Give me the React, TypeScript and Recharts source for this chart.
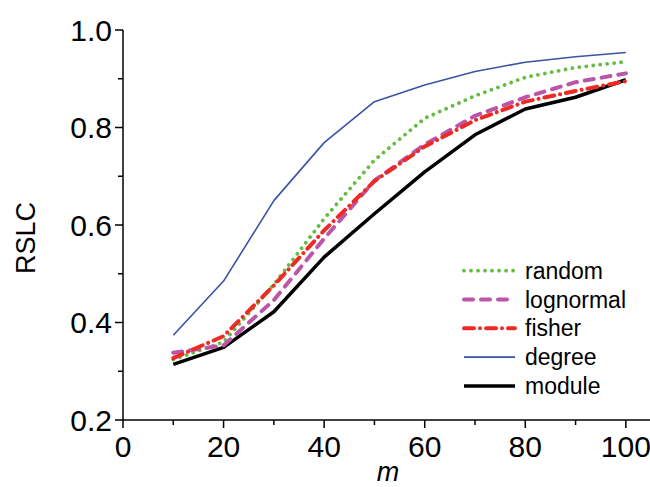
import React from "react";
import { LineChart, Line, XAxis, YAxis } from "recharts";

const mValues = [10, 20, 30, 40, 50, 60, 70, 80, 90, 100];
const randomValues = [0.324, 0.36, 0.478, 0.613, 0.733, 0.819, 0.865, 0.903, 0.923, 0.935];
const lognormalValues = [0.338, 0.353, 0.446, 0.572, 0.691, 0.765, 0.824, 0.862, 0.893, 0.911];
const fisherValues = [0.327, 0.372, 0.476, 0.589, 0.69, 0.761, 0.815, 0.853, 0.875, 0.895];
const degreeValues = [0.374, 0.485, 0.65, 0.769, 0.853, 0.887, 0.915, 0.934, 0.945, 0.954];
const moduleValues = [0.314, 0.349, 0.422, 0.534, 0.623, 0.709, 0.785, 0.838, 0.862, 0.898];

const xTicks = [0, 10, 20, 30, 40, 50, 60, 70, 80, 90, 100];
const yTicks = [0.2, 0.3, 0.4, 0.5, 0.6, 0.7, 0.8, 0.9, 1.0];

const data = mValues.map((m, i) => ({
  m,
  random: randomValues[i],
  lognormal: lognormalValues[i],
  fisher: fisherValues[i],
  degree: degreeValues[i],
  module: moduleValues[i],
}));

const FONT = "'Liberation Sans', Arial, sans-serif";

type SeriesStyle = {
  key: string;
  color: string;
  width: number;
  dash?: string;
  cap?: "round" | "butt";
};

const series: SeriesStyle[] = [
  { key: "random", color: "#66bb44", width: 3.8, dash: "0.01 7", cap: "round" },
  { key: "lognormal", color: "#bb55aa", width: 4, dash: "9 8", cap: "round" },
  { key: "fisher", color: "#ee2a24", width: 4, dash: "10 6 0.01 6", cap: "round" },
  { key: "degree", color: "#3a54a4", width: 1.6 },
  { key: "module", color: "#000000", width: 3.5 },
];

const drawOrder = ["degree", "module", "random", "lognormal", "fisher"];

const XTick = (props: any) => {
  const { x, y, payload } = props;
  const v = payload.value;
  const major = v % 20 === 0;
  return (
    <g>
      <line x1={x} x2={x} y1={y} y2={y + (major ? 8 : 5)} stroke="#000" strokeWidth={1.5} />
      {major && (
        <text x={x} y={y + 37} textAnchor="middle" fontSize={30} fontFamily={FONT} fill="#000">
          {v}
        </text>
      )}
    </g>
  );
};

const TopTick = (props: any) => {
  const { x, y } = props;
  return <line x1={x} x2={x} y1={y} y2={y - 3} stroke="#000" strokeWidth={1} />;
};

const YTick = (props: any) => {
  const { x, y, payload } = props;
  const v = Math.round(payload.value * 10);
  const major = v % 2 === 0;
  return (
    <g>
      <line x1={x} x2={x - (major ? 8 : 5)} y1={y} y2={y} stroke="#000" strokeWidth={1.5} />
      {major && (
        <text x={x - 11} y={y + 10.5} textAnchor="end" fontSize={30} fontFamily={FONT} fill="#000">
          {(v / 10).toFixed(1)}
        </text>
      )}
    </g>
  );
};

const LEG_X = 462;
const LEG_Y = 270.7;

export default function App() {
  return (
    <div style={{ position: "absolute", left: 0, top: 0, width: 650, height: 487, overflow: "hidden", background: "#fff" }}>
      <LineChart width={650} height={487} data={data} margin={{ top: 30, right: 0, bottom: 0, left: 0 }}>
        <XAxis
          dataKey="m"
          type="number"
          domain={[0, 104.8]}
          ticks={xTicks}
          interval={0}
          tick={<XTick />}
          tickLine={false}
          tickSize={0}
          tickMargin={0}
          height={67}
          axisLine={{ stroke: "#000", strokeWidth: 1.5 }}
          allowDataOverflow
        />
        <XAxis
          xAxisId="top"
          orientation="top"
          dataKey="m"
          type="number"
          domain={[0, 104.8]}
          ticks={xTicks}
          interval={0}
          tick={<TopTick />}
          tickLine={false}
          tickSize={0}
          tickMargin={0}
          height={0}
          axisLine={{ stroke: "#000", strokeWidth: 1.5 }}
          allowDataOverflow
        />
        <YAxis
          type="number"
          domain={[0.2, 1.0]}
          ticks={yTicks}
          interval={0}
          tick={<YTick />}
          tickLine={false}
          tickSize={0}
          tickMargin={0}
          width={123}
          axisLine={{ stroke: "#000", strokeWidth: 1.5 }}
          allowDataOverflow
        />
        {drawOrder.map((k) => {
          const s = series.find((q) => q.key === k)!;
          return (
            <Line
              key={k}
              dataKey={k}
              type="linear"
              stroke={s.color}
              strokeWidth={s.width}
              strokeDasharray={s.dash}
              strokeLinecap={s.cap || "butt"}
              strokeLinejoin="round"
              dot={false}
              activeDot={false}
              isAnimationActive={false}
            />
          );
        })}
        <g>
          {series.map((s, i) => {
            const cy = LEG_Y + i * 28.8;
            return (
              <g key={s.key}>
                <line
                  x1={LEG_X + 2}
                  x2={LEG_X + 53}
                  y1={cy}
                  y2={cy}
                  stroke={s.color}
                  strokeWidth={s.width}
                  strokeDasharray={s.dash}
                  strokeLinecap={s.cap || "butt"}
                />
                <text x={LEG_X + 63} y={cy + 8} fontSize={23} fontFamily={FONT} fill="#000">
                  {s.key}
                </text>
              </g>
            );
          })}
        </g>
        <text
          x={35}
          y={238}
          transform="rotate(-90 35 238)"
          textAnchor="middle"
          fontSize={27}
          fontFamily={FONT}
          fill="#000"
        >
          RSLC
        </text>
        <text x={388} y={481} textAnchor="middle" fontSize={27} fontStyle="italic" fontFamily={FONT} fill="#000">
          m
        </text>
      </LineChart>
    </div>
  );
}
